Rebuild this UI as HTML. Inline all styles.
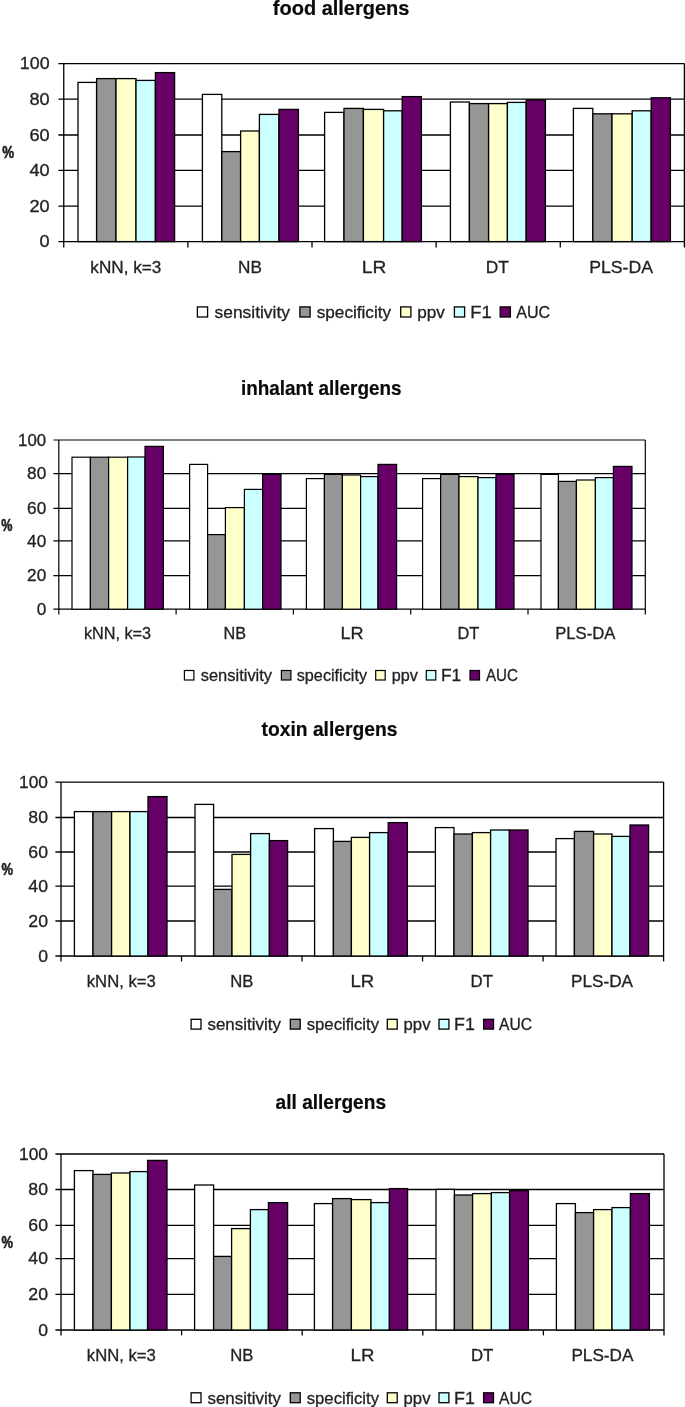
<!DOCTYPE html>
<html><head><meta charset="utf-8"><title>allergen classifier performance</title>
<style>
html,body{margin:0;padding:0;background:#fff}
svg{display:block}
text{font-family:"Liberation Sans",Arial,sans-serif;fill:#222;stroke:#222;stroke-width:0.3px}
.ln{stroke:#000;fill:none}
.br{stroke:#000}
</style></head><body>
<svg width="685" height="1407" viewBox="0 0 685 1407">
<rect x="0" y="0" width="685" height="1407" fill="#fff"/>
<g style="stroke-width:1.3">
<text transform="translate(341.1 15) scale(0.99 1)" text-anchor="middle" font-weight="bold" font-size="20.2" style="fill:#0a0a0a;stroke:#0a0a0a;stroke-width:0.2px">food allergens</text>
<line x1="58.4" y1="63.6" x2="684.4" y2="63.6" class="ln"/>
<line x1="58.4" y1="99.2" x2="684.4" y2="99.2" class="ln"/>
<line x1="58.4" y1="135" x2="684.4" y2="135" class="ln"/>
<line x1="58.4" y1="170.4" x2="684.4" y2="170.4" class="ln"/>
<line x1="58.4" y1="206.2" x2="684.4" y2="206.2" class="ln"/>
<line x1="58.4" y1="241.6" x2="684.4" y2="241.6" class="ln"/>
<line x1="63.75" y1="63.6" x2="63.75" y2="247.4" class="ln"/>
<line x1="684.4" y1="63.6" x2="684.4" y2="247.4" class="ln"/>
<line x1="187.88" y1="241.6" x2="187.88" y2="247.4" class="ln"/>
<line x1="312.01" y1="241.6" x2="312.01" y2="247.4" class="ln"/>
<line x1="436.14" y1="241.6" x2="436.14" y2="247.4" class="ln"/>
<line x1="560.27" y1="241.6" x2="560.27" y2="247.4" class="ln"/>
<text transform="translate(49.6 69.43) scale(1.055 1)" text-anchor="end" font-size="16.9">100</text>
<text transform="translate(49.6 105.03) scale(1.075 1)" text-anchor="end" font-size="16.9">80</text>
<text transform="translate(49.6 140.83) scale(1.075 1)" text-anchor="end" font-size="16.9">60</text>
<text transform="translate(49.6 176.23) scale(1.075 1)" text-anchor="end" font-size="16.9">40</text>
<text transform="translate(49.6 212.03) scale(1.075 1)" text-anchor="end" font-size="16.9">20</text>
<text transform="translate(49.6 247.43) scale(1.075 1)" text-anchor="end" font-size="16.9">0</text>
<text transform="translate(8.1 158.07) scale(0.789 1.03)" text-anchor="middle" font-weight="bold" font-size="16.9" style="stroke-width:0.6px">%</text>
<rect x="78" y="82.4" width="18.6" height="159.2" fill="#ffffff" class="br"/>
<rect x="96.6" y="78.6" width="19.4" height="163" fill="#969696" class="br"/>
<rect x="116" y="78.6" width="20" height="163" fill="#ffffcc" class="br"/>
<rect x="136" y="80.4" width="19.4" height="161.2" fill="#ccffff" class="br"/>
<rect x="155.4" y="72.6" width="19.2" height="169" fill="#660066" class="br"/>
<rect x="202.4" y="94.4" width="19.4" height="147.2" fill="#ffffff" class="br"/>
<rect x="221.8" y="151.6" width="18.8" height="90" fill="#969696" class="br"/>
<rect x="240.6" y="131" width="18.8" height="110.6" fill="#ffffcc" class="br"/>
<rect x="259.4" y="114.4" width="19.6" height="127.2" fill="#ccffff" class="br"/>
<rect x="279" y="109.4" width="19.4" height="132.2" fill="#660066" class="br"/>
<rect x="324.6" y="112.4" width="19.4" height="129.2" fill="#ffffff" class="br"/>
<rect x="344" y="108.4" width="19.4" height="133.2" fill="#969696" class="br"/>
<rect x="363.4" y="109.4" width="20.2" height="132.2" fill="#ffffcc" class="br"/>
<rect x="383.6" y="110.8" width="18.6" height="130.8" fill="#ccffff" class="br"/>
<rect x="402.2" y="96.6" width="19.2" height="145" fill="#660066" class="br"/>
<rect x="450.4" y="102" width="19" height="139.6" fill="#ffffff" class="br"/>
<rect x="469.4" y="103.6" width="19.2" height="138" fill="#969696" class="br"/>
<rect x="488.6" y="103.6" width="18.8" height="138" fill="#ffffcc" class="br"/>
<rect x="507.4" y="102.4" width="18.8" height="139.2" fill="#ccffff" class="br"/>
<rect x="526.2" y="100" width="19.2" height="141.6" fill="#660066" class="br"/>
<rect x="573.4" y="108.4" width="19.4" height="133.2" fill="#ffffff" class="br"/>
<rect x="592.8" y="113.8" width="19.2" height="127.8" fill="#969696" class="br"/>
<rect x="612" y="113.8" width="20.2" height="127.8" fill="#ffffcc" class="br"/>
<rect x="632.2" y="110.8" width="19" height="130.8" fill="#ccffff" class="br"/>
<rect x="651.2" y="97.8" width="19.2" height="143.8" fill="#660066" class="br"/>
<text transform="translate(125.81 272.75) scale(1.016 1)" text-anchor="middle" font-size="16.9">kNN, k=3</text>
<text transform="translate(249.94 272.75) scale(1.016 1)" text-anchor="middle" font-size="16.9">NB</text>
<text transform="translate(374.07 272.75) scale(1.134 1)" text-anchor="middle" font-size="16.9">LR</text>
<text transform="translate(497.2 272.75) scale(1.026 1)" text-anchor="middle" font-size="16.9">DT</text>
<text transform="translate(621.04 272.75) scale(1.046 1)" text-anchor="middle" font-size="16.9">PLS-DA</text>
<rect x="197.4" y="306.9" width="10.2" height="10.1" fill="#ffffff" class="br"/>
<text transform="translate(214.5 317.6) scale(1.031 1)" font-size="16.9">sensitivity</text>
<rect x="299.9" y="306.9" width="10.2" height="10.1" fill="#969696" class="br"/>
<text transform="translate(316.75 317.6) scale(1.016 1)" font-size="16.9">specificity</text>
<rect x="400.7" y="306.9" width="10.2" height="10.1" fill="#ffffcc" class="br"/>
<text transform="translate(417.25 317.6) scale(1.016 1)" font-size="16.9">ppv</text>
<rect x="454.4" y="306.9" width="10.2" height="10.1" fill="#ccffff" class="br"/>
<text transform="translate(470.2 317.6) scale(1.085 1)" font-size="16.9">F1</text>
<rect x="500.2" y="306.9" width="10.2" height="10.1" fill="#660066" class="br"/>
<text transform="translate(516.25 317.6) scale(0.952 1)" font-size="16.9">AUC</text>
</g>
<g style="stroke-width:1.2">
<text transform="translate(321.2 394.8) scale(0.936 1)" text-anchor="middle" font-weight="bold" font-size="20.2" style="fill:#0a0a0a;stroke:#0a0a0a;stroke-width:0.2px">inhalant allergens</text>
<line x1="53.4" y1="440" x2="645.3" y2="440" class="ln"/>
<line x1="53.4" y1="473.6" x2="645.3" y2="473.6" class="ln"/>
<line x1="53.4" y1="508.4" x2="645.3" y2="508.4" class="ln"/>
<line x1="53.4" y1="540.8" x2="645.3" y2="540.8" class="ln"/>
<line x1="53.4" y1="575.6" x2="645.3" y2="575.6" class="ln"/>
<line x1="53.4" y1="609.2" x2="645.3" y2="609.2" class="ln"/>
<line x1="58.8" y1="440" x2="58.8" y2="614.4" class="ln"/>
<line x1="645.3" y1="440" x2="645.3" y2="614.4" class="ln"/>
<line x1="176.1" y1="609.2" x2="176.1" y2="614.4" class="ln"/>
<line x1="293.4" y1="609.2" x2="293.4" y2="614.4" class="ln"/>
<line x1="410.7" y1="609.2" x2="410.7" y2="614.4" class="ln"/>
<line x1="528" y1="609.2" x2="528" y2="614.4" class="ln"/>
<text transform="translate(46.2 445.83) scale(0.997 1)" text-anchor="end" font-size="16.9">100</text>
<text transform="translate(46.2 479.43) scale(1.016 1)" text-anchor="end" font-size="16.9">80</text>
<text transform="translate(46.2 514.23) scale(1.016 1)" text-anchor="end" font-size="16.9">60</text>
<text transform="translate(46.2 546.63) scale(1.016 1)" text-anchor="end" font-size="16.9">40</text>
<text transform="translate(46.2 581.43) scale(1.016 1)" text-anchor="end" font-size="16.9">20</text>
<text transform="translate(46.2 615.03) scale(1.016 1)" text-anchor="end" font-size="16.9">0</text>
<text transform="translate(6.8 530.97) scale(0.746 1.03)" text-anchor="middle" font-weight="bold" font-size="16.9" style="stroke-width:0.6px">%</text>
<rect x="72" y="457.2" width="18.4" height="152" fill="#ffffff" class="br"/>
<rect x="90.4" y="457.2" width="18.2" height="152" fill="#969696" class="br"/>
<rect x="108.6" y="457.2" width="19" height="152" fill="#ffffcc" class="br"/>
<rect x="127.6" y="457" width="17.4" height="152.2" fill="#ccffff" class="br"/>
<rect x="145" y="446.4" width="18.4" height="162.8" fill="#660066" class="br"/>
<rect x="189.6" y="464.4" width="18" height="144.8" fill="#ffffff" class="br"/>
<rect x="207.6" y="534.6" width="17.8" height="74.6" fill="#969696" class="br"/>
<rect x="225.4" y="507.6" width="19" height="101.6" fill="#ffffcc" class="br"/>
<rect x="244.4" y="489.4" width="18.2" height="119.8" fill="#ccffff" class="br"/>
<rect x="262.6" y="474.4" width="18.4" height="134.8" fill="#660066" class="br"/>
<rect x="306.4" y="478.6" width="18" height="130.6" fill="#ffffff" class="br"/>
<rect x="324.4" y="474.4" width="18" height="134.8" fill="#969696" class="br"/>
<rect x="342.4" y="475" width="18.2" height="134.2" fill="#ffffcc" class="br"/>
<rect x="360.6" y="476.6" width="17.4" height="132.6" fill="#ccffff" class="br"/>
<rect x="378" y="464.4" width="18.6" height="144.8" fill="#660066" class="br"/>
<rect x="422.6" y="478.6" width="18" height="130.6" fill="#ffffff" class="br"/>
<rect x="440.6" y="474.4" width="18.4" height="134.8" fill="#969696" class="br"/>
<rect x="459" y="476.6" width="19" height="132.6" fill="#ffffcc" class="br"/>
<rect x="478" y="477.6" width="18" height="131.6" fill="#ccffff" class="br"/>
<rect x="496" y="474.4" width="18" height="134.8" fill="#660066" class="br"/>
<rect x="541" y="474.4" width="17.4" height="134.8" fill="#ffffff" class="br"/>
<rect x="558.4" y="481.4" width="18" height="127.8" fill="#969696" class="br"/>
<rect x="576.4" y="480" width="19" height="129.2" fill="#ffffcc" class="br"/>
<rect x="595.4" y="477.6" width="18" height="131.6" fill="#ccffff" class="br"/>
<rect x="613.4" y="466.4" width="18.6" height="142.8" fill="#660066" class="br"/>
<text transform="translate(117.45 638.8) scale(0.96 1)" text-anchor="middle" font-size="16.9">kNN, k=3</text>
<text transform="translate(234.75 638.8) scale(0.96 1)" text-anchor="middle" font-size="16.9">NB</text>
<text transform="translate(352.05 638.8) scale(1.072 1)" text-anchor="middle" font-size="16.9">LR</text>
<text transform="translate(468.35 638.8) scale(0.969 1)" text-anchor="middle" font-size="16.9">DT</text>
<text transform="translate(585.35 638.8) scale(0.988 1)" text-anchor="middle" font-size="16.9">PLS-DA</text>
<rect x="184.4" y="670.5" width="9.5" height="9.5" fill="#ffffff" class="br"/>
<text transform="translate(200.75 680.9) scale(0.974 1)" font-size="16.9">sensitivity</text>
<rect x="281.4" y="670.5" width="9.5" height="9.5" fill="#969696" class="br"/>
<text transform="translate(296.75 680.9) scale(0.96 1)" font-size="16.9">specificity</text>
<rect x="375.7" y="670.5" width="9.5" height="9.5" fill="#ffffcc" class="br"/>
<text transform="translate(391.75 680.9) scale(0.96 1)" font-size="16.9">ppv</text>
<rect x="426.3" y="670.5" width="9.5" height="9.5" fill="#ccffff" class="br"/>
<text transform="translate(440.95 680.9) scale(1.025 1)" font-size="16.9">F1</text>
<rect x="470" y="670.5" width="9.5" height="9.5" fill="#660066" class="br"/>
<text transform="translate(486 680.9) scale(0.899 1)" font-size="16.9">AUC</text>
</g>
<g style="stroke-width:1.3">
<text transform="translate(329.5 735.8) scale(0.953 1)" text-anchor="middle" font-weight="bold" font-size="20.2" style="fill:#0a0a0a;stroke:#0a0a0a;stroke-width:0.2px">toxin allergens</text>
<line x1="55.4" y1="782.1" x2="663.6" y2="782.1" class="ln"/>
<line x1="55.4" y1="817.5" x2="663.6" y2="817.5" class="ln"/>
<line x1="55.4" y1="852" x2="663.6" y2="852" class="ln"/>
<line x1="55.4" y1="886.2" x2="663.6" y2="886.2" class="ln"/>
<line x1="55.4" y1="921" x2="663.6" y2="921" class="ln"/>
<line x1="55.4" y1="956" x2="663.6" y2="956" class="ln"/>
<line x1="61" y1="782.1" x2="61" y2="961.4" class="ln"/>
<line x1="663.6" y1="782.1" x2="663.6" y2="961.4" class="ln"/>
<line x1="181.52" y1="956" x2="181.52" y2="961.4" class="ln"/>
<line x1="302.04" y1="956" x2="302.04" y2="961.4" class="ln"/>
<line x1="422.56" y1="956" x2="422.56" y2="961.4" class="ln"/>
<line x1="543.08" y1="956" x2="543.08" y2="961.4" class="ln"/>
<text transform="translate(48 787.93) scale(1.026 1)" text-anchor="end" font-size="16.9">100</text>
<text transform="translate(48 823.33) scale(1.045 1)" text-anchor="end" font-size="16.9">80</text>
<text transform="translate(48 857.83) scale(1.045 1)" text-anchor="end" font-size="16.9">60</text>
<text transform="translate(48 892.03) scale(1.045 1)" text-anchor="end" font-size="16.9">40</text>
<text transform="translate(48 926.83) scale(1.045 1)" text-anchor="end" font-size="16.9">20</text>
<text transform="translate(48 961.83) scale(1.045 1)" text-anchor="end" font-size="16.9">0</text>
<text transform="translate(7.2 875.07) scale(0.767 1.03)" text-anchor="middle" font-weight="bold" font-size="16.9" style="stroke-width:0.6px">%</text>
<rect x="74.4" y="811.6" width="18.6" height="144.4" fill="#ffffff" class="br"/>
<rect x="93" y="811.6" width="18.6" height="144.4" fill="#969696" class="br"/>
<rect x="111.6" y="811.6" width="18.4" height="144.4" fill="#ffffcc" class="br"/>
<rect x="130" y="811.6" width="18" height="144.4" fill="#ccffff" class="br"/>
<rect x="148" y="796.6" width="19" height="159.4" fill="#660066" class="br"/>
<rect x="195" y="804.4" width="18.6" height="151.6" fill="#ffffff" class="br"/>
<rect x="213.6" y="889.4" width="18.4" height="66.6" fill="#969696" class="br"/>
<rect x="232" y="854.4" width="18.6" height="101.6" fill="#ffffcc" class="br"/>
<rect x="250.6" y="833.6" width="18.8" height="122.4" fill="#ccffff" class="br"/>
<rect x="269.4" y="840.6" width="18.2" height="115.4" fill="#660066" class="br"/>
<rect x="314.6" y="828.6" width="18.8" height="127.4" fill="#ffffff" class="br"/>
<rect x="333.4" y="841.4" width="18" height="114.6" fill="#969696" class="br"/>
<rect x="351.4" y="837.4" width="18.2" height="118.6" fill="#ffffcc" class="br"/>
<rect x="369.6" y="832.6" width="18.6" height="123.4" fill="#ccffff" class="br"/>
<rect x="388.2" y="822.6" width="19.2" height="133.4" fill="#660066" class="br"/>
<rect x="435.4" y="827.6" width="18.6" height="128.4" fill="#ffffff" class="br"/>
<rect x="454" y="834" width="18.4" height="122" fill="#969696" class="br"/>
<rect x="472.4" y="832.6" width="18.2" height="123.4" fill="#ffffcc" class="br"/>
<rect x="490.6" y="830" width="18.8" height="126" fill="#ccffff" class="br"/>
<rect x="509.4" y="830" width="18.6" height="126" fill="#660066" class="br"/>
<rect x="556" y="838.6" width="18.4" height="117.4" fill="#ffffff" class="br"/>
<rect x="574.4" y="831.4" width="19.2" height="124.6" fill="#969696" class="br"/>
<rect x="593.6" y="834" width="18.4" height="122" fill="#ffffcc" class="br"/>
<rect x="612" y="836.4" width="18" height="119.6" fill="#ccffff" class="br"/>
<rect x="630" y="825" width="18.6" height="131" fill="#660066" class="br"/>
<text transform="translate(121.26 987) scale(0.987 1)" text-anchor="middle" font-size="16.9">kNN, k=3</text>
<text transform="translate(241.78 987) scale(0.987 1)" text-anchor="middle" font-size="16.9">NB</text>
<text transform="translate(362.3 987) scale(1.102 1)" text-anchor="middle" font-size="16.9">LR</text>
<text transform="translate(481.82 987) scale(0.997 1)" text-anchor="middle" font-size="16.9">DT</text>
<text transform="translate(602.04 987) scale(1.016 1)" text-anchor="middle" font-size="16.9">PLS-DA</text>
<rect x="191.1" y="1019.3" width="9.9" height="9.8" fill="#ffffff" class="br"/>
<text transform="translate(207.5 1030) scale(1.002 1)" font-size="16.9">sensitivity</text>
<rect x="290.3" y="1019.3" width="9.9" height="9.8" fill="#969696" class="br"/>
<text transform="translate(306.75 1030) scale(0.987 1)" font-size="16.9">specificity</text>
<rect x="387.3" y="1019.3" width="9.9" height="9.8" fill="#ffffcc" class="br"/>
<text transform="translate(403.6 1030) scale(0.987 1)" font-size="16.9">ppv</text>
<rect x="439" y="1019.3" width="9.9" height="9.8" fill="#ccffff" class="br"/>
<text transform="translate(454.1 1030) scale(1.054 1)" font-size="16.9">F1</text>
<rect x="483.6" y="1019.3" width="9.9" height="9.8" fill="#660066" class="br"/>
<text transform="translate(499.1 1030) scale(0.925 1)" font-size="16.9">AUC</text>
</g>
<g style="stroke-width:1.3">
<text transform="translate(330.8 1108.5) scale(0.946 1)" text-anchor="middle" font-weight="bold" font-size="20.2" style="fill:#0a0a0a;stroke:#0a0a0a;stroke-width:0.2px">all allergens</text>
<line x1="55.4" y1="1154" x2="664" y2="1154" class="ln"/>
<line x1="55.4" y1="1189.5" x2="664" y2="1189.5" class="ln"/>
<line x1="55.4" y1="1225.3" x2="664" y2="1225.3" class="ln"/>
<line x1="55.4" y1="1258.6" x2="664" y2="1258.6" class="ln"/>
<line x1="55.4" y1="1294.4" x2="664" y2="1294.4" class="ln"/>
<line x1="55.4" y1="1330" x2="664" y2="1330" class="ln"/>
<line x1="61" y1="1154" x2="61" y2="1335.4" class="ln"/>
<line x1="664" y1="1154" x2="664" y2="1335.4" class="ln"/>
<line x1="181.6" y1="1330" x2="181.6" y2="1335.4" class="ln"/>
<line x1="302.2" y1="1330" x2="302.2" y2="1335.4" class="ln"/>
<line x1="422.8" y1="1330" x2="422.8" y2="1335.4" class="ln"/>
<line x1="543.4" y1="1330" x2="543.4" y2="1335.4" class="ln"/>
<text transform="translate(48 1159.83) scale(1.026 1)" text-anchor="end" font-size="16.9">100</text>
<text transform="translate(48 1195.33) scale(1.045 1)" text-anchor="end" font-size="16.9">80</text>
<text transform="translate(48 1231.13) scale(1.045 1)" text-anchor="end" font-size="16.9">60</text>
<text transform="translate(48 1264.43) scale(1.045 1)" text-anchor="end" font-size="16.9">40</text>
<text transform="translate(48 1300.23) scale(1.045 1)" text-anchor="end" font-size="16.9">20</text>
<text transform="translate(48 1335.83) scale(1.045 1)" text-anchor="end" font-size="16.9">0</text>
<text transform="translate(7.2 1248.47) scale(0.767 1.03)" text-anchor="middle" font-weight="bold" font-size="16.9" style="stroke-width:0.6px">%</text>
<rect x="74.4" y="1170.6" width="18.6" height="159.4" fill="#ffffff" class="br"/>
<rect x="93" y="1174.4" width="18.4" height="155.6" fill="#969696" class="br"/>
<rect x="111.4" y="1173" width="18.6" height="157" fill="#ffffcc" class="br"/>
<rect x="130" y="1171.6" width="17.6" height="158.4" fill="#ccffff" class="br"/>
<rect x="147.6" y="1160.4" width="19.4" height="169.6" fill="#660066" class="br"/>
<rect x="194.6" y="1185" width="19" height="145" fill="#ffffff" class="br"/>
<rect x="213.6" y="1256.4" width="18" height="73.6" fill="#969696" class="br"/>
<rect x="231.6" y="1228.6" width="18.8" height="101.4" fill="#ffffcc" class="br"/>
<rect x="250.4" y="1209.6" width="18" height="120.4" fill="#ccffff" class="br"/>
<rect x="268.4" y="1202.6" width="19.2" height="127.4" fill="#660066" class="br"/>
<rect x="314.4" y="1203.6" width="18.2" height="126.4" fill="#ffffff" class="br"/>
<rect x="332.6" y="1198.6" width="18.8" height="131.4" fill="#969696" class="br"/>
<rect x="351.4" y="1199.6" width="19.6" height="130.4" fill="#ffffcc" class="br"/>
<rect x="371" y="1202.6" width="18.4" height="127.4" fill="#ccffff" class="br"/>
<rect x="389.4" y="1188.6" width="18.2" height="141.4" fill="#660066" class="br"/>
<rect x="436" y="1189.4" width="18.4" height="140.6" fill="#ffffff" class="br"/>
<rect x="454.4" y="1195" width="18.2" height="135" fill="#969696" class="br"/>
<rect x="472.6" y="1193.6" width="18.8" height="136.4" fill="#ffffcc" class="br"/>
<rect x="491.4" y="1192.6" width="18.2" height="137.4" fill="#ccffff" class="br"/>
<rect x="509.6" y="1190.6" width="18.8" height="139.4" fill="#660066" class="br"/>
<rect x="556.4" y="1203.6" width="19" height="126.4" fill="#ffffff" class="br"/>
<rect x="575.4" y="1212.6" width="18.2" height="117.4" fill="#969696" class="br"/>
<rect x="593.6" y="1209.6" width="18.4" height="120.4" fill="#ffffcc" class="br"/>
<rect x="612" y="1207.6" width="18.4" height="122.4" fill="#ccffff" class="br"/>
<rect x="630.4" y="1193.6" width="19" height="136.4" fill="#660066" class="br"/>
<text transform="translate(121.3 1360.6) scale(0.987 1)" text-anchor="middle" font-size="16.9">kNN, k=3</text>
<text transform="translate(241.9 1360.6) scale(0.987 1)" text-anchor="middle" font-size="16.9">NB</text>
<text transform="translate(362.5 1360.6) scale(1.102 1)" text-anchor="middle" font-size="16.9">LR</text>
<text transform="translate(482.1 1360.6) scale(0.997 1)" text-anchor="middle" font-size="16.9">DT</text>
<text transform="translate(602.4 1360.6) scale(1.016 1)" text-anchor="middle" font-size="16.9">PLS-DA</text>
<rect x="191.1" y="1392.8" width="9.9" height="9.9" fill="#ffffff" class="br"/>
<text transform="translate(207.5 1403.5) scale(1.002 1)" font-size="16.9">sensitivity</text>
<rect x="290.3" y="1392.8" width="9.9" height="9.9" fill="#969696" class="br"/>
<text transform="translate(306.75 1403.5) scale(0.987 1)" font-size="16.9">specificity</text>
<rect x="387.3" y="1392.8" width="9.9" height="9.9" fill="#ffffcc" class="br"/>
<text transform="translate(403.6 1403.5) scale(0.987 1)" font-size="16.9">ppv</text>
<rect x="439" y="1392.8" width="9.9" height="9.9" fill="#ccffff" class="br"/>
<text transform="translate(454.1 1403.5) scale(1.054 1)" font-size="16.9">F1</text>
<rect x="483.6" y="1392.8" width="9.9" height="9.9" fill="#660066" class="br"/>
<text transform="translate(499.1 1403.5) scale(0.925 1)" font-size="16.9">AUC</text>
</g>
</svg>
</body></html>
